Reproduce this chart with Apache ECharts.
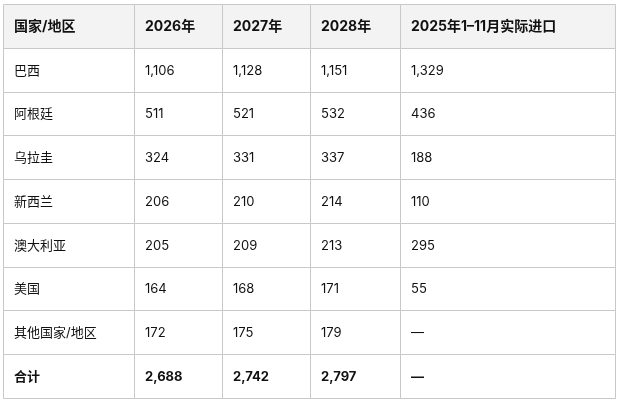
<!DOCTYPE html>
<html lang="zh">
<head>
<meta charset="UTF-8">
<title>进口预测表</title>
<script src="https://cdn.jsdelivr.net/npm/echarts@6/dist/echarts.min.js"></script>
<style>html,body{margin:0;background:#fff}</style>
</head>
<body>
<div id="main" style="width:620px;height:403px;"></div>
<script>
var headers = ['国家/地区', '2026年', '2027年', '2028年', '2025年1–11月实际进口'];
var regions = ['巴西', '阿根廷', '乌拉圭', '新西兰', '澳大利亚', '美国', '其他国家/地区', '合计'];
var y2026 = ['1,106', '511', '324', '206', '205', '164', '172', '2,688'];
var y2027 = ['1,128', '521', '331', '210', '209', '168', '175', '2,742'];
var y2028 = ['1,151', '532', '337', '214', '213', '171', '179', '2,797'];
var actual2025 = ['1,329', '436', '188', '110', '295', '55', '—', '—'];

var colEdges = [0, 131, 219, 307, 397, 612];
var columns = [regions, y2026, y2027, y2028, actual2025];

// each cell: [column, row, text, kind] kind 2 = header, 1 = total row, 0 = body
var cells = [];
for (var c = 0; c < 5; c++) {
    cells.push([c, 0, headers[c], 2]);
    for (var r = 0; r < regions.length; r++) {
        cells.push([c, r + 1, columns[c][r], r === regions.length - 1 ? 1 : 0]);
    }
}

var myChart = echarts.init(document.getElementById('main'));
myChart.setOption({
    animation: false,
    grid: { left: 3, right: 5, top: 4, bottom: 5 },
    xAxis: { type: 'value', min: 0, max: 612, show: false },
    yAxis: { type: 'value', min: 0, max: 9, inverse: true, show: false },
    series: [{
        type: 'custom',
        data: cells,
        renderItem: function (params, api) {
            var c = api.value(0), r = api.value(1);
            var p0 = api.coord([colEdges[c], r]);
            var p1 = api.coord([colEdges[c + 1], r + 1]);
            var item = cells[params.dataIndex];
            var font = item[3] === 2 ? 'bold 14px' : (item[3] === 1 ? 'bold 13px' : '13px');
            return {
                type: 'group',
                children: [{
                    type: 'rect',
                    shape: { x: Math.round(p0[0]) + 0.5, y: Math.round(p0[1]) + 0.5,
                             width: Math.round(p1[0] - p0[0]), height: Math.round(p1[1] - p0[1]) },
                    style: { fill: r === 0 ? '#f3f3f3' : '#fff', stroke: '#c8c8c8', lineWidth: 1 }
                }, {
                    type: 'text',
                    x: p0[0] + 11,
                    y: (p0[1] + p1[1]) / 2 + 1,
                    style: {
                        text: item[2],
                        fill: '#111',
                        font: font + ' Inter, "Noto Sans CJK SC", sans-serif',
                        verticalAlign: 'middle',
                        align: 'left'
                    }
                }]
            };
        }
    }]
});
</script>
</body>
</html>
